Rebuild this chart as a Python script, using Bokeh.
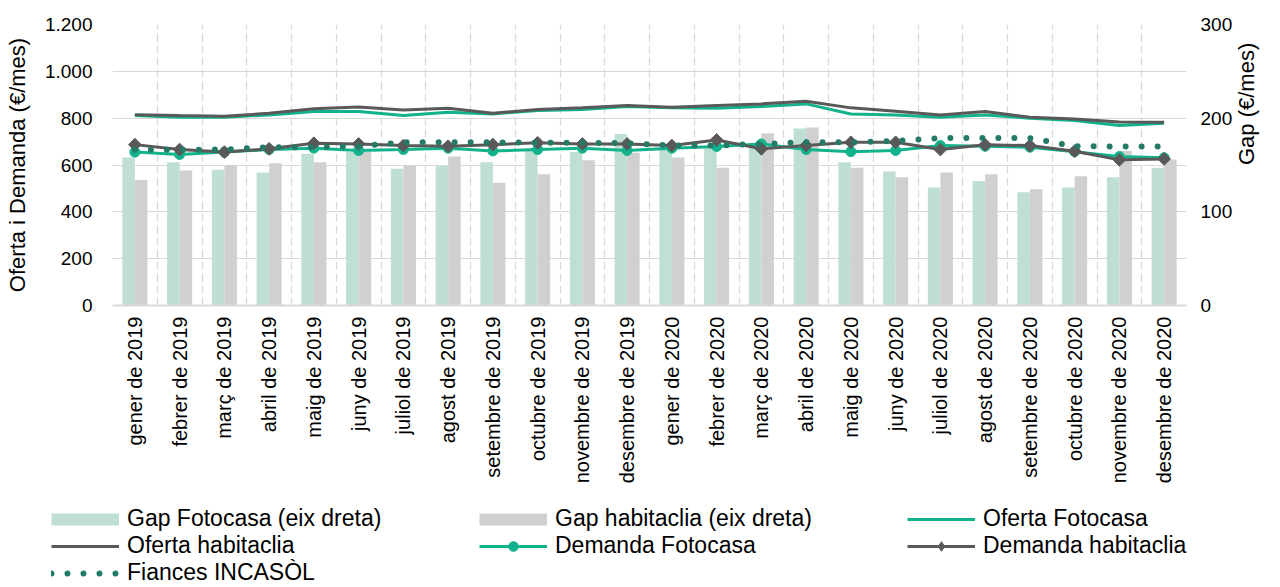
import numpy as np
from bokeh.plotting import figure
from bokeh.layouts import column, row
from bokeh.models import (Range1d, LinearAxis, FixedTicker, Legend, LegendItem,
                          ColumnDataSource)
from bokeh.transform import dodge
from bokeh.embed import file_html
from bokeh.resources import INLINE

# ---------------- data ----------------
months = ["gener de 2019", "febrer de 2019", "març de 2019", "abril de 2019",
          "maig de 2019", "juny de 2019", "juliol de 2019", "agost de 2019",
          "setembre de 2019", "octubre de 2019", "novembre de 2019", "desembre de 2019",
          "gener de 2020", "febrer de 2020", "març de 2020", "abril de 2020",
          "maig de 2020", "juny de 2020", "juliol de 2020", "agost de 2020",
          "setembre de 2020", "octubre de 2020", "novembre de 2020", "desembre de 2020"]

gap_fotocasa = [158, 153, 145, 142, 162, 164, 146, 149, 153, 167, 164, 183,
                167, 169, 173, 189, 153, 143, 126, 133, 121, 126, 137, 147]
gap_habitaclia = [134, 144, 150, 152, 153, 164, 150, 159, 131, 140, 155, 163,
                  158, 147, 184, 190, 147, 137, 142, 140, 124, 138, 165, 156]
oferta_fotocasa = [811, 804, 804, 814, 828, 828, 811, 825, 818, 833, 837, 850,
                   844, 842, 850, 861, 818, 814, 804, 814, 800, 790, 769, 778]
oferta_habitaclia = [815, 811, 808, 821, 840, 848, 835, 842, 821, 837, 844, 854,
                     847, 854, 861, 872, 844, 830, 814, 828, 804, 796, 784, 783]
demanda_fotocasa = [655, 645, 655, 666, 672, 662, 666, 672, 660, 666, 672, 662,
                    672, 679, 690, 666, 657, 662, 683, 680, 676, 657, 636, 631]
demanda_habitaclia = [687, 666, 655, 669, 693, 690, 683, 680, 687, 695, 690, 690,
                      683, 707, 669, 683, 697, 697, 666, 686, 683, 659, 622, 626]
fiances_incasol = [665, 665, 666, 676, 676, 680, 697, 697, 697, 695, 695, 693,
                   683, 683, 690, 697, 697, 703, 715, 715, 715, 680, 679, 679]

left_ticks = [0, 200, 400, 600, 800, 1000, 1200]
left_tick_labels = ["0", "200", "400", "600", "800", "1.000", "1.200"]
right_ticks = [0, 100, 200, 300]
right_tick_labels = ["0", "100", "200", "300"]

series_names = ["Gap Fotocasa (eix dreta)", "Gap habitaclia (eix dreta)", "Oferta Fotocasa",
                "Oferta habitaclia", "Demanda Fotocasa", "Demanda habitaclia",
                "Fiances INCASÒL"]

# ---------------- style ----------------
FONT = "Liberation Sans"
TEAL = "#12B28C"
DGRAY = "#595959"
DTEAL = "#237A66"
BAR_GREEN = "#BFDFD4"
BAR_GRAY = "#D0D0D0"
GRID = "#D9D9D9"
W = 1274

n = len(months)
xc = [i + 0.5 for i in range(n)]

src = ColumnDataSource(dict(x=xc, gf=gap_fotocasa, gh=gap_habitaclia,
                            of=oferta_fotocasa, oh=oferta_habitaclia,
                            df=demanda_fotocasa, dh=demanda_habitaclia,
                            fi=fiances_incasol))

p = figure(width=W, height=490, x_range=Range1d(0, n), y_range=Range1d(0, 1200),
           output_backend="svg", toolbar_location=None, title=None,
           min_border_left=112, min_border_right=82, min_border_top=24,
           min_border_bottom=185)
p.extra_y_ranges = {"gap": Range1d(0, 300)}
p.outline_line_color = None
p.background_fill_color = "white"

# grids
p.ygrid.grid_line_color = GRID
p.ygrid.grid_line_width = 1
p.xgrid.ticker = FixedTicker(ticks=list(range(0, n + 1)))
p.xgrid.grid_line_color = GRID
p.xgrid.grid_line_width = 1.3
p.xgrid.grid_line_dash = "8 4"

# bars
bw = 0.28
p.vbar(x=dodge("x", -bw / 2), top="gf", width=bw, bottom=0, source=src,
       y_range_name="gap", fill_color=BAR_GREEN, line_color=None)
p.vbar(x=dodge("x", bw / 2), top="gh", width=bw, bottom=0, source=src,
       y_range_name="gap", fill_color=BAR_GRAY, line_color=None)

# lines
line_styles = dict(
    of=dict(line_color=TEAL, line_width=3),
    oh=dict(line_color=DGRAY, line_width=3),
    df=dict(line_color=TEAL, line_width=3),
    dh=dict(line_color=DGRAY, line_width=3),
    fi=dict(line_color=DTEAL, line_width=6, line_dash="0 16", line_cap="round"),
)
marker_styles = dict(
    df=dict(marker="circle", fill_color=TEAL, line_color=TEAL),
    dh=dict(marker="square", angle=np.pi / 4, fill_color=DGRAY, line_color=DGRAY),
)
p.line("x", "of", source=src, **line_styles["of"])
p.line("x", "oh", source=src, **line_styles["oh"])
p.line("x", "df", source=src, **line_styles["df"])
p.scatter("x", "df", source=src, size=10, **marker_styles["df"])
p.line("x", "dh", source=src, **line_styles["dh"])
p.scatter("x", "dh", source=src, size=9, **marker_styles["dh"])
p.line("x", "fi", source=src, **line_styles["fi"])

# axes
p.xaxis.ticker = FixedTicker(ticks=xc)
p.xaxis.major_label_overrides = {x: m for x, m in zip(xc, months)}
p.xaxis.major_label_orientation = np.pi / 2
p.xaxis.major_label_text_font = FONT
p.xaxis.major_label_text_font_size = "20px"
p.xaxis.major_label_text_color = "black"
p.xaxis.major_label_standoff = 11
p.xaxis.axis_line_color = GRID
p.xaxis.axis_line_width = 2
p.xaxis.major_tick_line_color = None
p.xaxis.minor_tick_line_color = None
p.xaxis.major_tick_out = 0
p.xaxis.major_tick_in = 0

p.yaxis.ticker = FixedTicker(ticks=left_ticks)
p.yaxis.major_label_overrides = dict(zip(left_ticks, left_tick_labels))
p.yaxis.axis_label = "Oferta i Demanda (€/mes)"
p.yaxis.axis_label_text_font = FONT
p.yaxis.axis_label_text_font_size = "22px"
p.yaxis.axis_label_text_font_style = "normal"
p.yaxis.axis_label_text_color = "black"
p.yaxis.axis_label_standoff = 12
p.yaxis.major_label_text_font = FONT
p.yaxis.major_label_text_font_size = "19px"
p.yaxis.major_label_text_color = "black"
p.yaxis.major_label_standoff = 20
p.yaxis.axis_line_color = None
p.yaxis.major_tick_line_color = None
p.yaxis.minor_tick_line_color = None
p.yaxis.major_tick_out = 0
p.yaxis.major_tick_in = 0

ax_r = LinearAxis(y_range_name="gap", ticker=FixedTicker(ticks=right_ticks),
                  axis_label="Gap (€/mes)")
ax_r.major_label_overrides = dict(zip(right_ticks, right_tick_labels))
ax_r.axis_label_orientation = np.pi / 2
ax_r.axis_label_text_font = FONT
ax_r.axis_label_text_font_size = "22px"
ax_r.axis_label_text_font_style = "normal"
ax_r.axis_label_text_color = "black"
ax_r.axis_label_standoff = 11
ax_r.major_label_text_font = FONT
ax_r.major_label_text_font_size = "19px"
ax_r.major_label_text_color = "black"
ax_r.major_label_standoff = 14
ax_r.axis_line_color = None
ax_r.major_tick_line_color = None
ax_r.minor_tick_line_color = None
ax_r.major_tick_out = 0
ax_r.major_tick_in = 0
p.add_layout(ax_r, "right")

# ---------------- legend figure ----------------
lg = figure(width=W, height=97, x_range=Range1d(0, 1), y_range=Range1d(0, 1),
            output_backend="svg", toolbar_location=None, title=None,
            x_axis_type=None, y_axis_type=None,
            min_border_left=0, min_border_right=0, min_border_top=0, min_border_bottom=0)
lg.outline_line_color = None
lg.grid.visible = False

# legend proxies: placed outside the visible range, only their legend glyphs show
px, py = [5, 6], [5, 6]
l_gf = lg.line(x=px, y=py, line_color=BAR_GREEN, line_width=12)
l_gh = lg.line(x=px, y=py, line_color=BAR_GRAY, line_width=12)
l_of = lg.line(x=px, y=py, **line_styles["of"])
l_oh = lg.line(x=px, y=py, **line_styles["oh"])
l_df = lg.line(x=px, y=py, **line_styles["df"])
m_df = lg.scatter(x=px, y=py, **marker_styles["df"])
l_dh = lg.line(x=px, y=py, **line_styles["dh"])
m_dh = lg.scatter(x=px, y=py, marker="diamond", fill_color=DGRAY, line_color=DGRAY)
l_fi = lg.line(x=px, y=py, **line_styles["fi"])

items = [
    LegendItem(label=series_names[0], renderers=[l_gf]),
    LegendItem(label=series_names[1], renderers=[l_gh]),
    LegendItem(label=series_names[2], renderers=[l_of]),
    LegendItem(label=series_names[3], renderers=[l_oh]),
    LegendItem(label=series_names[4], renderers=[l_df, m_df]),
    LegendItem(label=series_names[5], renderers=[l_dh, m_dh]),
    LegendItem(label=series_names[6], renderers=[l_fi]),
]
legend = Legend(items=items, location=(51, 1), orientation="horizontal", ncols=3,
                glyph_width=68, glyph_height=24, label_standoff=8, label_width=352,
                label_height=25, spacing=0, padding=0, margin=0,
                label_text_font=FONT, label_text_font_size="23px",
                label_text_color="black",
                background_fill_alpha=0, border_line_alpha=0)
lg.add_layout(legend)

layout = column(p, row(lg), spacing=0)
open("out.html", "w").write(file_html(layout, INLINE))
